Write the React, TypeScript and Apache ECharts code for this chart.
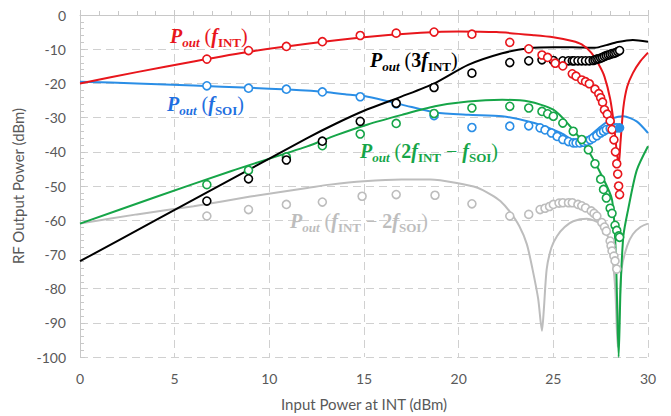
import React, { useEffect, useRef } from "react";
import * as echarts from "echarts";

// ---------- data ----------
// model curves (lines)
const redLineX = [0, 3, 6, 9, 12, 15, 18, 20, 22, 24, 25, 26, 26.5, 27, 27.4, 27.7, 28, 28.2, 28.35, 28.45, 28.55, 28.7, 28.9, 29.2, 29.6, 30];
const redLineY = [-20, -16.7, -13.6, -10.7, -8.4, -6.5, -5.2, -4.8, -5.0, -5.9, -6.5, -7.6, -8.6, -11, -14.5, -18, -24.5, -32, -40, -44, -37, -27, -21, -17, -13.5, -11];

const blackLineX = [0, 4, 8, 12, 13.5, 15, 17, 18.75, 20.5, 22.3, 23.7, 25, 26, 27.2, 27.8, 28.4, 29.2, 30];
const blackLineY = [-72, -60, -48, -36, -31.8, -28, -23.8, -19.9, -14.6, -11.2, -9.7, -9.4, -9.4, -9.6, -8.8, -7.9, -7.3, -7.8];

const blueLineX = [0, 3, 6, 9, 11, 13, 14, 15.2, 17, 18.75, 20.5, 22.3, 24, 25.4, 26.1, 26.4, 26.9, 27.5, 28.2, 28.7, 29.4, 30];
const blueLineY = [-19.5, -20, -20.6, -21.3, -21.8, -22.5, -23.2, -23.9, -26.2, -28.5, -29.2, -29.6, -31.6, -34.5, -36.9, -37.4, -35.5, -32.6, -30.1, -29.6, -31.1, -34.5];

const greenLineX = [0, 4, 8, 12, 13.5, 15.2, 17, 18.75, 20.5, 22.3, 23.7, 25, 25.8, 26.7, 27.56, 28.1, 28.3, 28.45, 28.55, 28.7, 28.95, 29.4, 30];
const greenLineY = [-61, -53.2, -45.6, -38.4, -35.2, -32, -29.2, -26.7, -25.3, -24.8, -25.3, -27.7, -32, -38.4, -47, -54, -70, -100, -80, -64.6, -56.9, -45.5, -38.4];

const grayLineX = [0, 3, 6, 9, 12, 13.2, 15, 17, 18.5, 19.9, 21, 21.7, 22.2, 22.7, 23.2, 23.6, 23.9, 24.2, 24.4, 24.5, 24.65, 24.9, 25.2, 25.6, 26.05, 26.77, 27.5, 28, 28.26, 28.4, 28.5, 28.6, 28.9, 29.2, 29.6, 30];
const grayLineY = [-61, -58.3, -55.9, -53.1, -50.6, -49.6, -48.6, -48.1, -48.1, -49.1, -50.5, -52.5, -54.4, -57.5, -61.7, -67, -74.3, -83, -92.3, -86, -74.3, -68, -64.6, -62, -60.3, -59.6, -61.2, -66.6, -79.2, -97, -85, -74.3, -67.5, -64.1, -62, -61];

// measurements (circles)
const redPtsX = [6.7, 8.9, 10.9, 12.8, 14.8, 16.7, 18.7, 20.7, 22.7, 23.7, 24.4, 24.7, 25.1, 25.5, 26.0, 26.2, 26.5, 26.7, 26.9, 27.2, 27.4, 27.5, 27.6, 27.7, 27.85, 28.0, 28.1, 28.2, 28.28, 28.35, 28.4, 28.45, 28.5];
const redPtsY = [-12.9, -10.4, -9.2, -7.8, -6.0, -5.3, -5.0, -5.6, -8.0, -9.9, -11.7, -12.4, -14.1, -14.9, -17.2, -17.9, -19.0, -19.5, -20.1, -21.7, -23.0, -24.2, -25.5, -27.7, -29.0, -31.0, -33.5, -36.5, -40, -43.5, -46.5, -50, -52.5];

const blackPtsX = [6.7, 8.9, 10.9, 12.8, 14.8, 16.7, 18.7, 20.7, 22.7, 23.7, 24.4, 25.0, 25.5, 25.8, 26.0, 26.1, 26.3, 26.5, 26.7, 26.9, 27.1, 27.2, 27.3, 27.4, 27.5, 27.6, 27.7, 27.8, 27.9, 28.0, 28.1, 28.2, 28.3, 28.4, 28.5];
const blackPtsY = [-54.4, -47.9, -42.4, -36.9, -31.1, -25.8, -21.2, -17.0, -13.9, -13.4, -13.1, -13.3, -13.4, -13.4, -13.4, -13.4, -13.4, -13.4, -13.4, -13.4, -13.3, -13.1, -12.9, -12.8, -12.6, -12.4, -12.1, -11.9, -11.7, -11.5, -11.3, -11.2, -11.0, -10.7, -10.4];

const bluePtsX = [6.7, 8.9, 10.9, 12.8, 14.8, 16.7, 18.7, 20.7, 22.7, 23.7, 24.3, 24.56, 24.9, 25.2, 25.5, 25.8, 26.05, 26.2, 26.4, 26.6, 26.77, 26.95, 27.1, 27.3, 27.5, 27.65, 27.8, 28.0, 28.2, 28.35];
const bluePtsY = [-20.7, -21.4, -21.7, -22.5, -23.9, -26.0, -29.4, -32.9, -32.5, -32.4, -33.0, -33.6, -34.5, -35.5, -36.4, -37.0, -37.4, -37.4, -37.4, -37.2, -36.9, -36.5, -36.0, -35.3, -34.5, -34.0, -33.5, -33.2, -33.0, -33.0];
const blueFilledX = [28.5];
const blueFilledY = [-33.0];

const greenPtsX = [6.7, 8.9, 10.9, 12.8, 14.8, 16.7, 18.7, 20.7, 22.7, 23.7, 24.4, 24.7, 25.0, 25.5, 26.05, 26.5, 26.85, 27.2, 27.5, 27.65, 27.8, 28.0, 28.1, 28.26, 28.35, 28.45, 28.5];
const greenPtsY = [-49.6, -45.4, -41.5, -38.2, -34.8, -31.7, -28.8, -27.2, -26.7, -27.2, -28.2, -28.9, -29.6, -31.6, -34.0, -36.4, -39.4, -43.5, -48, -51, -53.5, -56.5, -58, -61.5, -63, -64.6, -65];

const grayPtsX = [6.7, 8.9, 10.9, 12.8, 14.9, 16.7, 18.75, 20.7, 22.7, 23.7, 24.3, 24.56, 24.8, 25.0, 25.3, 25.5, 25.8, 26.0, 26.3, 26.5, 26.7, 27.0, 27.15, 27.3, 27.56, 27.7, 27.8, 28.0, 28.05, 28.1, 28.2, 28.26, 28.35];
const grayPtsY = [-58.8, -56.9, -55.4, -54.7, -53, -52.5, -52.7, -55.2, -58.8, -58.3, -56.9, -56.5, -56, -55.4, -55, -54.9, -54.9, -54.9, -55.4, -55.8, -56.4, -57.3, -58, -58.8, -60.7, -62, -63.2, -66.1, -67.5, -69, -70.5, -71.9, -74.3];

const xTicks = { min: 0, max: 30, interval: 5 };
const yTicks = { min: -100, max: 0, interval: 10 };

// ---------- styles ----------
const RED = "#e8161c";
const BLACK = "#000000";
const BLUE = "#2a8ee6";
const GREEN = "#16a548";
const GRAY = "#bdbdbd";
const SERIF = "'Liberation Serif', 'DejaVu Serif', serif";
const SANS = "Lato, 'Open Sans', sans-serif";

const zip = (xs: number[], ys: number[]) => xs.map((x, i) => [x, ys[i]]);

const richFor = (color: string) => {
  const base = { fontFamily: SERIF, fill: color, color };
  return {
    P: { ...base, fontStyle: "italic", fontWeight: "bold", fontSize: 20, lineHeight: 26, verticalAlign: "middle" },
    o: { ...base, fontStyle: "italic", fontWeight: "bold", fontSize: 13, lineHeight: 16, verticalAlign: "bottom" },
    t: { ...base, fontSize: 20, lineHeight: 26, verticalAlign: "middle" },
    b: { ...base, fontWeight: "bold", fontSize: 20, lineHeight: 26, verticalAlign: "middle" },
    f: { ...base, fontStyle: "italic", fontWeight: "bold", fontSize: 20, lineHeight: 26, verticalAlign: "middle" },
    s: { ...base, fontWeight: "bold", fontSize: 13, lineHeight: 18, verticalAlign: "bottom" },
  };
};

const label = (text: string, x: number, y: number, color: string) => ({
  type: "text",
  x,
  y,
  z: 10,
  style: { text, fill: color, rich: richFor(color), align: "left", verticalAlign: "middle" },
});

const lineSeries = (xs: number[], ys: number[], color: string) => ({
  type: "line",
  data: zip(xs, ys),
  showSymbol: false,
  smooth: 0.25,
  lineStyle: { color, width: 2 },
  z: 2,
});

const scatterSeries = (xs: number[], ys: number[], color: string, fill = "#ffffff") => ({
  type: "scatter",
  data: zip(xs, ys),
  symbol: "circle",
  symbolSize: 8,
  itemStyle: { color: fill, borderColor: color, borderWidth: 1.6, opacity: 1 },
  z: 3,
});

export default function App() {
  const ref = useRef<HTMLDivElement>(null);
  useEffect(() => {
    if (!ref.current) return;
    const chart = echarts.init(ref.current, null, { renderer: "svg" });
    const axisCommon = {
      axisLine: { show: true, lineStyle: { color: "#c8c8c8", width: 1 } },
      axisTick: { show: true, inside: true, length: 5, lineStyle: { color: "#c8c8c8" } },
      minorTick: { show: true, splitNumber: 5, length: 4, lineStyle: { color: "#c8c8c8" } },
      splitLine: { show: true, lineStyle: { color: "#d0d0d0", type: [8, 5], width: 1 } },
      axisLabel: { color: "#595959", fontFamily: SANS, fontSize: 14 },
      nameTextStyle: { color: "#595959", fontFamily: SANS, fontSize: 15 },
    };
    chart.setOption({
      animation: false,
      backgroundColor: "#ffffff",
      grid: { left: 80, right: 23, top: 15, bottom: 58, containLabel: false },
      xAxis: {
        type: "value",
        ...xTicks,
        ...axisCommon,
        axisLabel: { ...axisCommon.axisLabel, margin: 14 },
        name: "Input Power at INT (dBm)",
        nameLocation: "middle",
        nameGap: 39,
      },
      yAxis: {
        type: "value",
        ...yTicks,
        ...axisCommon,
        axisLabel: { ...axisCommon.axisLabel, margin: 14 },
        name: "RF Output Power (dBm)",
        nameLocation: "middle",
        nameRotate: 90,
        nameGap: 52,
      },
      series: [
        lineSeries(grayLineX, grayLineY, GRAY),
        lineSeries(blueLineX, blueLineY, BLUE),
        lineSeries(greenLineX, greenLineY, GREEN),
        lineSeries(blackLineX, blackLineY, BLACK),
        lineSeries(redLineX, redLineY, RED),
        scatterSeries(grayPtsX, grayPtsY, GRAY),
        scatterSeries(bluePtsX, bluePtsY, BLUE),
        scatterSeries(greenPtsX, greenPtsY, GREEN),
        scatterSeries(blackPtsX, blackPtsY, BLACK),
        scatterSeries(redPtsX, redPtsY, RED),
        scatterSeries(blueFilledX, blueFilledY, BLUE, BLUE),
      ],
      graphic: [
        label("{P|P}{o|out}{t| (}{f|f}{s|INT}{t|)}", 170, 36, RED),
        label("{P|P}{o|out}{t| (}{f|f}{s|SOI}{t|)}", 167, 104, "#1f6fe0"),
        label("{P|P}{o|out}{t| (}{b|3}{f|f}{s|INT}{t|)}", 370, 60, BLACK),
        label("{P|P}{o|out}{t| (}{b|2}{f|f}{s|INT}{t| − }{f|f}{s|SOI}{t|)}", 360, 151, GREEN),
        label("{P|P}{o|out}{t| (}{f|f}{s|INT}{t| − }{b|2}{f|f}{s|SOI}{t|)}", 290, 221, GRAY),
      ],
    });
    return () => chart.dispose();
  }, []);
  return <div ref={ref} style={{ position: "fixed", left: 0, top: 0, width: 671, height: 416 }} />;
}
